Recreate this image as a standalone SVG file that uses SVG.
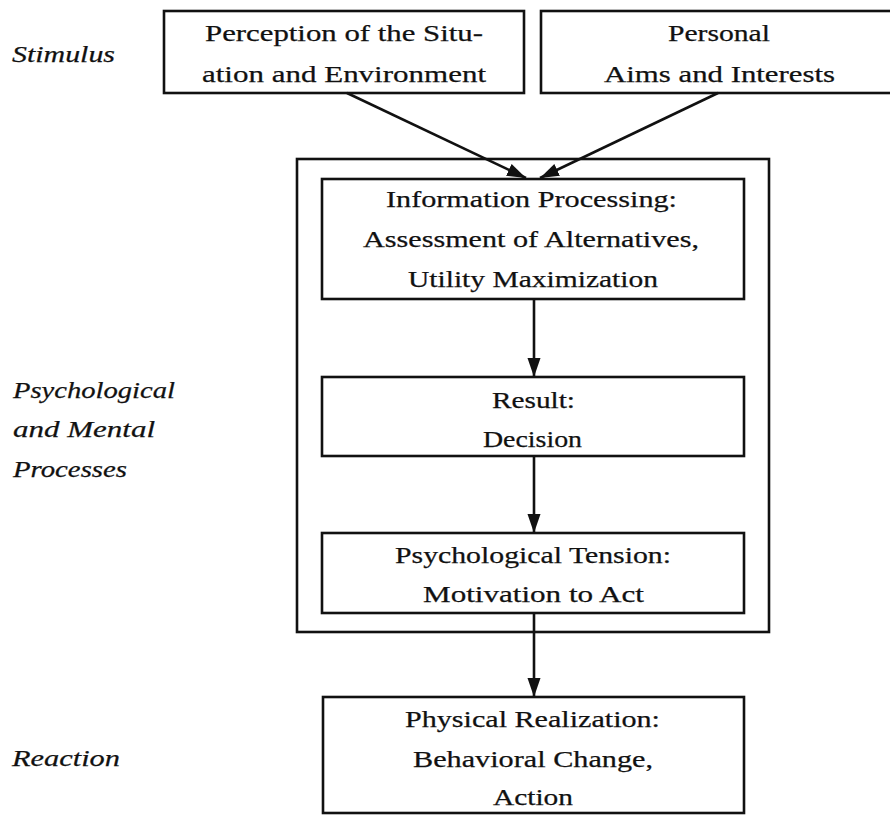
<svg xmlns="http://www.w3.org/2000/svg" width="890" height="815" viewBox="0 0 890 815">
<style>
.box{fill:none;stroke:#111;stroke-width:2.6}
.t{font-family:"Liberation Serif","Times New Roman",serif;font-size:24px;fill:#111;stroke:#111;stroke-width:0.25;text-anchor:middle}
.l{font-family:"Liberation Serif","Times New Roman",serif;font-size:24px;font-style:italic;fill:#111;stroke:#111;stroke-width:0.25}
.c{stroke:#111;stroke-width:2.6;fill:none}
</style>
<defs>
<marker id="ah" markerUnits="userSpaceOnUse" markerWidth="20" markerHeight="14" refX="19" refY="6.5" orient="auto">
<path d="M0,0 L19,6.5 L0,13 Z" fill="#111"/>
</marker>
</defs>
<rect width="890" height="815" fill="#fff"/>
<g id="labels">
<text class="l" x="12" y="62" textLength="103" lengthAdjust="spacingAndGlyphs">Stimulus</text>
<text class="l" x="13" y="398" textLength="162" lengthAdjust="spacingAndGlyphs">Psychological</text>
<text class="l" x="13" y="437" textLength="142" lengthAdjust="spacingAndGlyphs">and Mental</text>
<text class="l" x="13" y="477" textLength="114" lengthAdjust="spacingAndGlyphs">Processes</text>
<text class="l" x="12" y="766" textLength="108" lengthAdjust="spacingAndGlyphs">Reaction</text>
</g>
<g id="container">
<rect class="box" x="297" y="159" width="472" height="473"/>
</g>
<g id="perception">
<rect class="box" x="164" y="11" width="360" height="82"/>
<text class="t" x="344" y="41" textLength="278" lengthAdjust="spacingAndGlyphs">Perception of the Situ-</text>
<text class="t" x="344" y="82" textLength="284" lengthAdjust="spacingAndGlyphs">ation and Environment</text>
</g>
<g id="aims">
<rect class="box" x="541" y="11" width="356" height="82"/>
<text class="t" x="719" y="41" textLength="102" lengthAdjust="spacingAndGlyphs">Personal</text>
<text class="t" x="719.5" y="82" textLength="231" lengthAdjust="spacingAndGlyphs">Aims and Interests</text>
</g>
<g id="processing">
<rect class="box" x="322" y="179" width="422" height="120"/>
<text class="t" x="531.5" y="207" textLength="291" lengthAdjust="spacingAndGlyphs">Information Processing:</text>
<text class="t" x="531" y="247" textLength="336" lengthAdjust="spacingAndGlyphs">Assessment of Alternatives,</text>
<text class="t" x="533" y="287" textLength="250" lengthAdjust="spacingAndGlyphs">Utility Maximization</text>
</g>
<g id="result">
<rect class="box" x="322" y="377" width="422" height="79"/>
<text class="t" x="533.5" y="408" textLength="83" lengthAdjust="spacingAndGlyphs">Result:</text>
<text class="t" x="532.5" y="447" textLength="99" lengthAdjust="spacingAndGlyphs">Decision</text>
</g>
<g id="tension">
<rect class="box" x="322" y="533" width="422" height="80"/>
<text class="t" x="533" y="563" textLength="276" lengthAdjust="spacingAndGlyphs">Psychological Tension:</text>
<text class="t" x="533.5" y="602" textLength="221" lengthAdjust="spacingAndGlyphs">Motivation to Act</text>
</g>
<g id="realization">
<rect class="box" x="323" y="697" width="421" height="116"/>
<text class="t" x="532.5" y="727" textLength="255" lengthAdjust="spacingAndGlyphs">Physical Realization:</text>
<text class="t" x="533" y="767" textLength="240" lengthAdjust="spacingAndGlyphs">Behavioral Change,</text>
<text class="t" x="533" y="805" textLength="80" lengthAdjust="spacingAndGlyphs">Action</text>
</g>
<g id="connectors">
<line class="c" x1="347" y1="93" x2="526" y2="178" marker-end="url(#ah)"/>
<line class="c" x1="718" y1="93" x2="540" y2="178" marker-end="url(#ah)"/>
<line class="c" x1="534" y1="299" x2="534" y2="377" marker-end="url(#ah)"/>
<line class="c" x1="534" y1="456" x2="534" y2="533" marker-end="url(#ah)"/>
<line class="c" x1="534" y1="613" x2="534" y2="697" marker-end="url(#ah)"/>
</g>
</svg>
